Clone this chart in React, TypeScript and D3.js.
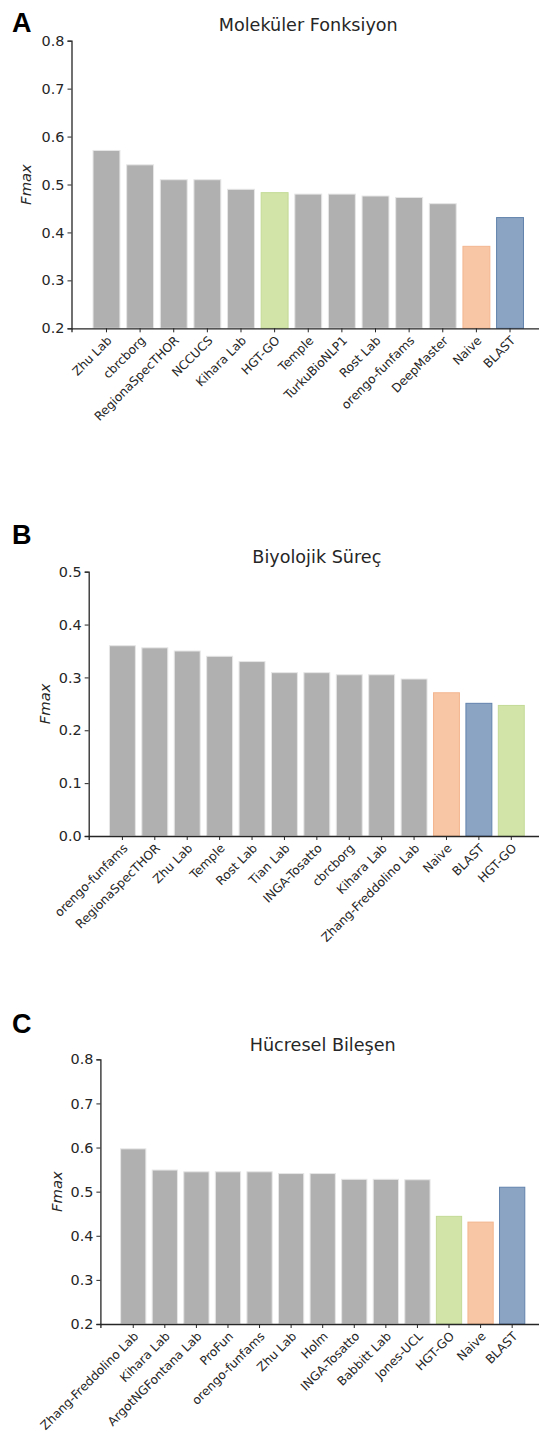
import React, {useRef, useEffect} from 'react';
import * as d3 from 'd3';

// Panel A - Moleküler Fonksiyon
const mfLabels = ['Zhu Lab', 'cbrcborg', 'RegionaSpecTHOR', 'NCCUCS', 'Kihara Lab', 'HGT-GO', 'Temple',
    'TurkuBioNLP1', 'Rost Lab', 'orengo-funfams', 'DeepMaster', 'Naive', 'BLAST'];
const mfValues = [0.571, 0.541, 0.51, 0.51, 0.49, 0.483, 0.48, 0.48, 0.476, 0.473, 0.46, 0.371, 0.431];
const mfTicks = [0.2, 0.3, 0.4, 0.5, 0.6, 0.7, 0.8];

// Panel B - Biyolojik Süreç
const bpLabels = ['orengo-funfams', 'RegionaSpecTHOR', 'Zhu Lab', 'Temple', 'Rost Lab', 'Tian Lab',
    'INGA-Tosatto', 'cbrcborg', 'Kihara Lab', 'Zhang-Freddolino Lab', 'Naive', 'BLAST', 'HGT-GO'];
const bpValues = [0.36, 0.356, 0.35, 0.34, 0.33, 0.309, 0.309, 0.305, 0.305, 0.297, 0.271, 0.251, 0.247];
const bpTicks = [0.0, 0.1, 0.2, 0.3, 0.4, 0.5];

// Panel C - Hücresel Bileşen
const ccLabels = ['Zhang-Freddolino Lab', 'Kihara Lab', 'ArgotNGFontana Lab', 'ProFun', 'orengo-funfams',
    'Zhu Lab', 'Holm', 'INGA-Tosatto', 'Babbitt Lab', 'Jones-UCL', 'HGT-GO', 'Naive', 'BLAST'];
const ccValues = [0.597, 0.549, 0.545, 0.545, 0.545, 0.541, 0.541, 0.528, 0.528, 0.527, 0.444, 0.431, 0.51];
const ccTicks = [0.2, 0.3, 0.4, 0.5, 0.6, 0.7, 0.8];

const fillFor = name => {
    if (name === 'HGT-GO') return '#d3e4a9';
    if (name === 'Naive') return '#f8c6a4';
    if (name === 'BLAST') return '#8ca4c3';
    return '#b0b0b0';
};
const edgeFor = name => {
    if (name === 'HGT-GO') return '#c3da96';
    if (name === 'Naive') return '#f4b690';
    if (name === 'BLAST') return '#6283ad';
    return '#e6e6e6';
};

const FONT = 'DejaVu Sans, sans-serif';
const INK = '#262626';

const panels = [
    {letter: 'A', title: 'Moleküler Fonksiyon', labels: mfLabels, values: mfValues, ticks: mfTicks,
        left: 71.5, top: 40.7, bottom: 328.3, letterY: 32, titleY: 31, ylabelX: 25.5},
    {letter: 'B', title: 'Biyolojik Süreç', labels: bpLabels, values: bpValues, ticks: bpTicks,
        left: 88.7, top: 571.7, bottom: 836, letterY: 544, titleY: 562.5, ylabelX: 45},
    {letter: 'C', title: 'Hücresel Bileşen', labels: ccLabels, values: ccValues, ticks: ccTicks,
        left: 100.4, top: 1059.3, bottom: 1324, letterY: 1032.5, titleY: 1050.5, ylabelX: 56.5},
];

const RIGHT = 545;

const App = () => {
    const svgRef = useRef(null);

    useEffect(() => {
        const svg = d3.select(svgRef.current);
        svg.selectAll('*').remove();

        panels.forEach(p => {
            const g = svg.append('g');

            const x = d3.scaleBand()
                .domain(p.labels)
                .range([p.left, RIGHT])
                .paddingInner(0.2)
                .paddingOuter(0.64);

            const y = d3.scaleLinear()
                .domain([p.ticks[0], p.ticks[p.ticks.length - 1]])
                .range([p.bottom, p.top]);

            // Bars
            g.selectAll('rect')
                .data(p.labels)
                .enter()
                .append('rect')
                .attr('x', d => x(d))
                .attr('y', (d, i) => y(p.values[i]))
                .attr('width', x.bandwidth())
                .attr('height', (d, i) => y(p.ticks[0]) - y(p.values[i]))
                .attr('fill', d => fillFor(d))
                .attr('stroke', d => edgeFor(d))
                .attr('stroke-width', 1);

            // Y axis
            const yAxis = d3.axisLeft(y)
                .tickValues(p.ticks)
                .tickFormat(d3.format('.1f'))
                .tickSizeOuter(0)
                .tickSize(4)
                .tickPadding(3);

            const yg = g.append('g')
                .attr('transform', `translate(${p.left}, 0)`)
                .call(yAxis);
            yg.select('.domain').attr('stroke', INK).attr('stroke-width', 1.3);
            yg.selectAll('.tick line').attr('stroke', INK).attr('stroke-width', 1);
            yg.selectAll('.tick text')
                .attr('fill', INK)
                .attr('font-family', FONT)
                .attr('font-size', 14.4);

            // X axis
            const xAxis = d3.axisBottom(x)
                .tickSizeOuter(0)
                .tickSize(4)
                .tickFormat(() => '');

            const xg = g.append('g')
                .attr('transform', `translate(0, ${p.bottom})`)
                .call(xAxis);
            xg.select('.domain').attr('stroke', INK).attr('stroke-width', 1.3);
            xg.selectAll('.tick line').attr('stroke', INK).attr('stroke-width', 1);

            // Rotated category labels
            g.selectAll('text.xlabel')
                .data(p.labels)
                .enter()
                .append('text')
                .attr('class', 'xlabel')
                .attr('transform', d => `translate(${x(d) + x.bandwidth() / 2 + 3}, ${p.bottom + 10}) rotate(-45)`)
                .attr('text-anchor', 'end')
                .attr('dy', '0.35em')
                .attr('fill', INK)
                .attr('font-family', FONT)
                .attr('font-size', 12.2)
                .text(d => d);

            // Y label
            g.append('text')
                .attr('transform', `translate(${p.ylabelX}, ${(p.top + p.bottom) / 2}) rotate(-90)`)
                .attr('text-anchor', 'middle')
                .attr('dy', '0.35em')
                .attr('font-style', 'italic')
                .attr('fill', INK)
                .attr('font-family', FONT)
                .attr('font-size', 14.8)
                .text('Fmax');

            // Title
            g.append('text')
                .attr('x', (p.left + RIGHT) / 2)
                .attr('y', p.titleY)
                .attr('text-anchor', 'middle')
                .attr('fill', INK)
                .attr('font-family', FONT)
                .attr('font-size', 17.6)
                .text(p.title);

            // Panel letter
            g.append('text')
                .attr('x', 12)
                .attr('y', p.letterY)
                .attr('fill', '#000')
                .attr('font-family', 'Liberation Sans, Arial, sans-serif')
                .attr('font-weight', 'bold')
                .attr('font-size', 27)
                .text(p.letter);
        });
    }, []);

    return (
        <svg ref={svgRef} width={539} height={1435}
             style={{position: 'absolute', left: 0, top: 0, background: '#fff'}}/>
    );
};

export default App;
